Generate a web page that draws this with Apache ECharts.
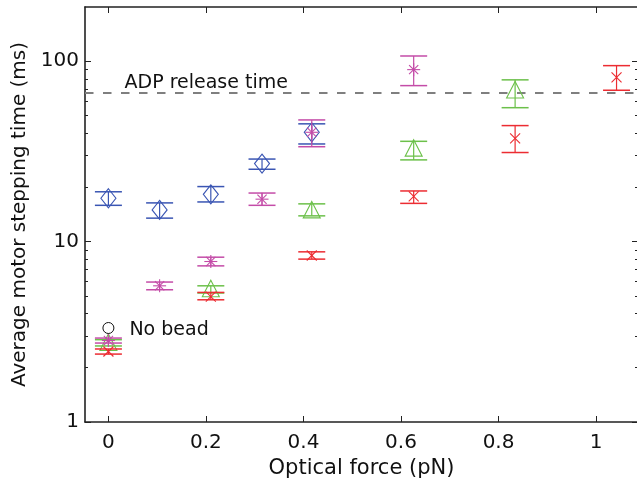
<!DOCTYPE html>
<html>
<head>
<meta charset="utf-8">
<script src="https://cdn.jsdelivr.net/npm/echarts@6/dist/echarts.min.js"></script>
<style>html,body{margin:0;padding:0;background:#fff;}#chart{width:637px;height:480px;}</style>
</head>
<body>
<div id="chart"></div>
<script>
// ---- data ----
const xTicks = [0, 0.2, 0.4, 0.6, 0.8, 1];
const yTicks = [1, 10, 100];
const yMinorTicks = [2, 3, 4, 5, 6, 7, 8, 9, 20, 30, 40, 50, 60, 70, 80, 90];

const blueX  = [0, 0.105, 0.21, 0.315, 0.417];
const blueY  = [17.4, 15.0, 18.3, 27.1, 40.4];
const blueLo = [15.9, 13.5, 16.6, 25.2, 34.8];
const blueHi = [18.9, 16.4, 20.2, 28.7, 45.0];

const magentaX  = [0, 0.105, 0.21, 0.315, 0.417, 0.626];
const magentaY  = [2.83, 5.69, 7.76, 17.2, 40.4, 89.9];
const magentaLo = [2.74, 5.41, 7.34, 15.9, 33.6, 73.3];
const magentaHi = [2.92, 5.97, 8.2, 18.6, 47.3, 107];

const greenX  = [0, 0.21, 0.417, 0.626, 0.834];
const greenY  = [2.76, 5.48, 15.0, 33.0, 69.3];
const greenLo = [2.64, 5.19, 13.9, 28.4, 55.3];
const greenHi = [2.86, 5.69, 16.2, 36.0, 78.9];

const redX  = [0, 0.21, 0.417, 0.626, 0.834, 1.042];
const redY  = [2.46, 4.96, 8.38, 17.8, 37.4, 81.5];
const redLo = [2.38, 4.76, 8.0, 16.3, 31.2, 69.1];
const redHi = [2.54, 5.23, 8.78, 19.1, 44.0, 94.6];

const noBeadX = [0];
const noBeadY = [3.32];

const adpReleaseTime = 67;
const adpLabelX = 0.032;

// ---- styles ----
const FONT = 'DejaVu Sans';
const TXT = '#111';
const AX = '#222';
const C_BLUE = '#3a55b3', C_MAG = '#c44ca8', C_GREEN = '#6cc04a', C_RED = '#ec2c32';

function rows(xs, ys, lo, hi) { return xs.map((x, i) => [x, ys[i], lo[i], hi[i]]); }

function markerEls(type, cx, cy, color) {
  const st = { fill: 'none', stroke: color, lineWidth: 1.1 };
  const ln = (x1, y1, x2, y2) => ({ type: 'line', shape: { x1, y1, x2, y2 }, style: st });
  if (type === 'diamond') return [{ type: 'polygon', shape: { points: [[cx, cy - 9.5], [cx + 7.5, cy], [cx, cy + 9.5], [cx - 7.5, cy]] }, style: st }];
  if (type === 'triangle') return [{ type: 'polygon', shape: { points: [[cx, cy - 8.5], [cx + 8.5, cy + 8], [cx - 8.5, cy + 8]] }, style: st }];
  if (type === 'asterisk') return [ln(cx - 6.5, cy, cx + 6.5, cy), ln(cx, cy - 6.5, cx, cy + 6.5), ln(cx - 4.6, cy - 4.6, cx + 4.6, cy + 4.6), ln(cx - 4.6, cy + 4.6, cx + 4.6, cy - 4.6)];
  if (type === 'x') return [ln(cx - 5, cy - 5, cx + 5, cy + 5), ln(cx - 5, cy + 5, cx + 5, cy - 5)];
  return [];
}

function errSeries(name, data, color, marker) {
  return {
    type: 'custom', name, data, xAxisIndex: 0, yAxisIndex: 0, z: 5,
    encode: { x: 0, y: 1 },
    renderItem: function (params, api) {
      const c = api.coord([api.value(0), api.value(1)]);
      const pl = api.coord([api.value(0), api.value(2)]);
      const ph = api.coord([api.value(0), api.value(3)]);
      const hw = 13.5;
      const st = { stroke: color, lineWidth: 1.2 };
      const children = [
        { type: 'line', shape: { x1: c[0], y1: ph[1], x2: c[0], y2: pl[1] }, style: st },
        { type: 'line', shape: { x1: c[0] - hw, y1: ph[1], x2: c[0] + hw, y2: ph[1] }, style: { stroke: color, lineWidth: 1.5 } },
        { type: 'line', shape: { x1: c[0] - hw, y1: pl[1], x2: c[0] + hw, y2: pl[1] }, style: { stroke: color, lineWidth: 1.5 } }
      ].concat(markerEls(marker, c[0], c[1], color));
      return { type: 'group', children };
    }
  };
}

const xMin = -0.048, xMax = 1.086, yMin = 1, yMax = 200;

const xBase = {
  type: 'value', min: xMin, max: xMax, splitLine: { show: false },
  axisLine: { show: true, onZero: false, lineStyle: { color: AX, width: 1.6 } },
  axisTick: { show: true, inside: true, length: 6, customValues: xTicks, lineStyle: { color: AX, width: 1 } }
};
const yBase = {
  type: 'log', logBase: 10, min: yMin, max: yMax, splitLine: { show: false }, minorTick: { show: false },
  axisLine: { show: true, onZero: false, lineStyle: { color: AX, width: 1.6 } }
};

const chart = echarts.init(document.getElementById('chart'), null, { renderer: 'canvas' });
chart.setOption({
  animation: false,
  backgroundColor: '#fff',
  grid: { left: 85, top: 7, right: -1, bottom: 58, containLabel: false, outerBoundsMode: 'none' },
  xAxis: [
    Object.assign({}, xBase, {
      position: 'bottom',
      name: 'Optical force (pN)', nameLocation: 'middle', nameGap: 33,
      nameTextStyle: { fontFamily: FONT, fontSize: 21, color: TXT },
      axisLabel: { show: true, customValues: xTicks, margin: 11, fontFamily: FONT, fontSize: 20, color: TXT,
        formatter: v => String(Math.round(v * 10) / 10) }
    }),
    Object.assign({}, xBase, { position: 'top', axisLabel: { show: false } })
  ],
  yAxis: [
    Object.assign({}, yBase, {
      position: 'left',
      name: 'Average motor stepping time (ms)', nameLocation: 'middle', nameGap: 50, nameRotate: 90,
      nameTextStyle: { fontFamily: FONT, fontSize: 20, color: TXT },
      axisTick: { show: true, inside: true, length: 6, customValues: yTicks, lineStyle: { color: AX, width: 1 } },
      axisLabel: { show: true, customValues: yTicks, margin: 6, fontFamily: FONT, fontSize: 20, color: TXT }
    }),
    Object.assign({}, yBase, {
      position: 'left', axisLine: { show: false, onZero: false },
      axisTick: { show: true, inside: true, length: 3, customValues: yMinorTicks, lineStyle: { color: AX, width: 1 } },
      axisLabel: { show: false }
    }),
    Object.assign({}, yBase, {
      position: 'right',
      axisTick: { show: true, inside: true, length: 6, customValues: yTicks, lineStyle: { color: AX, width: 1 } },
      axisLabel: { show: false }
    }),
    Object.assign({}, yBase, {
      position: 'right', axisLine: { show: false, onZero: false },
      axisTick: { show: true, inside: true, length: 3, customValues: yMinorTicks, lineStyle: { color: AX, width: 1 } },
      axisLabel: { show: false }
    })
  ],
  series: [
    {
      type: 'scatter', name: 'ADP', xAxisIndex: 0, yAxisIndex: 0, z: 2,
      data: [[adpLabelX, adpReleaseTime]], symbolSize: 1, itemStyle: { color: 'rgba(0,0,0,0)', opacity: 1 },
      label: { show: true, formatter: 'ADP release time', position: 'right', distance: 0, offset: [0, -10],
        fontFamily: FONT, fontSize: 19, color: TXT },
      markLine: {
        silent: true, symbol: ['none', 'none'], label: { show: false },
        lineStyle: { color: '#7f7f7f', width: 1.8, type: [8.5, 9.5], opacity: 1 },
        data: [{ yAxis: adpReleaseTime }]
      }
    },
    errSeries('blue', rows(blueX, blueY, blueLo, blueHi), C_BLUE, 'diamond'),
    errSeries('green', rows(greenX, greenY, greenLo, greenHi), C_GREEN, 'triangle'),
    errSeries('red', rows(redX, redY, redLo, redHi), C_RED, 'x'),
    errSeries('magenta', rows(magentaX, magentaY, magentaLo, magentaHi), C_MAG, 'asterisk'),
    {
      type: 'scatter', name: 'No bead', xAxisIndex: 0, yAxisIndex: 0, z: 6,
      data: noBeadX.map((x, i) => [x, noBeadY[i]]), symbol: 'circle', symbolSize: 11,
      itemStyle: { color: 'rgba(0,0,0,0)', borderColor: '#111', borderWidth: 1, opacity: 1 },
      label: { show: true, formatter: 'No bead', position: 'right', distance: 15, offset: [0, 2],
        fontFamily: FONT, fontSize: 19, color: TXT }
    }
  ]
});
</script>
</body>
</html>
